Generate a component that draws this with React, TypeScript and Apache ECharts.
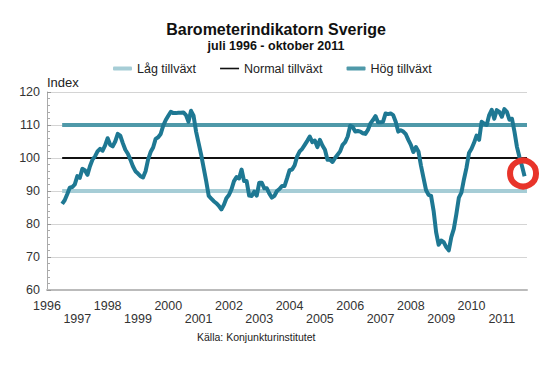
import React, { useEffect, useRef } from "react";
import * as echarts from "echarts";

// Monthly values, July 1996 – October 2011
const startYear = 1996;
const startMonth = 7;
const indexValues: number[] = [
  86.1, 87.2, 89, 91, 91.2, 92, 94.5, 94, 96.7, 96.3, 94.9, 97.5,
  99.5, 100.5, 102, 102.8, 102.2, 103.8, 106, 104, 103.5, 105, 107.3, 106.8,
  104.5, 102.5, 101.3, 99.5, 97.5, 96, 95.3, 94.5, 94.1, 96, 99.5, 101.8,
  103.2, 105.8, 106.3, 107.3, 109.8, 111.5, 112.8, 114, 113.6, 113.6, 113.7, 113.7,
  113.8, 113, 111, 114.3, 112.8, 108, 104.5, 101, 97, 93, 88.5, 87.7,
  86.9, 86.3, 85.5, 84.4, 85.8, 87.8, 88.8, 90.5, 93, 94.2, 93.8, 96.5,
  93, 93, 88.6, 88.5, 89.8, 88.6, 92.5, 92.5, 90.8, 90.8, 89.2, 88,
  88.5, 90, 90.6, 91.5, 91.5, 93.8, 96.3, 96.5, 97.8, 100.5, 102, 102.8,
  104, 105.2, 106.5, 104.8, 105.3, 103.3, 105.5, 103.8, 102.5, 99.5, 99.5, 98.8,
  100, 101, 102, 104, 104.8, 106.5, 109.8, 109.4, 108, 108.2, 108, 107.5,
  107.3, 108.5, 110.5, 111.5, 112.7, 110.8, 110.8, 111, 113.5, 113.3, 113.5, 113,
  111, 108, 108.4, 108, 107.2, 105.5, 104, 101.8, 103.3, 102, 97.7, 94,
  90.3, 88.8, 88.5, 84, 77.5, 73.7, 75, 74.5, 73, 72, 76, 78.5,
  83, 88, 89.5, 93.5, 97, 101.5, 102.8, 104.6, 106.8, 105.5, 111, 110.4,
  110, 113, 114.6, 111.9, 114.5, 114, 112.5, 114.8, 114, 111.6, 111.9, 108,
  103.3, 100.2, 97.5, 94.5,
];

const refNames = ["Låg tillväxt", "Normal tillväxt", "Hög tillväxt"];
const refLevels = [90, 100, 110];
const refColors = ["#a6cdd6", "#111111", "#4f99a9"];
const refWidths = [4, 2, 4];

const xMin = 1996;
const xMax = 2011.83;
const yTicks = [60, 70, 80, 90, 100, 110, 120];
const highlightPoint = [2011.7, 95.3];

const FONT = "Liberation Sans, Arial, Helvetica, sans-serif";

export default function App() {
  const ref = useRef<HTMLDivElement>(null);

  useEffect(() => {
    if (!ref.current) return;
    const chart = echarts.init(ref.current, undefined, { renderer: "svg" });

    const lineData = indexValues.map((v, i) => [
      startYear + (startMonth - 1 + i) / 12,
      v,
    ]);
    const dataStart = lineData[0][0];

    const refSeries = refNames.map((name, k) => ({
      name,
      type: "line",
      data: [
        [dataStart, refLevels[k]],
        [xMax, refLevels[k]],
      ],
      symbol: "none",
      color: refColors[k],
      lineStyle: { color: refColors[k], width: refWidths[k] },
      z: 2,
      silent: true,
    }));

    chart.setOption({
      animation: false,
      backgroundColor: "#ffffff",
      textStyle: { fontFamily: FONT },
      title: {
        text: "Barometerindikatorn Sverige",
        subtext: "juli 1996 - oktober 2011",
        left: 271,
        textAlign: "center",
        top: 16,
        itemGap: 2,
        textStyle: { fontFamily: FONT, fontSize: 16, fontWeight: "bold", color: "#111" },
        subtextStyle: { fontFamily: FONT, fontSize: 12.5, fontWeight: "bold", color: "#111" },
      },
      legend: {
        top: 57,
        left: 108,
        itemWidth: 19,
        itemHeight: 4,
        itemGap: 24,
        textStyle: { fontFamily: FONT, fontSize: 12.5, color: "#222" },
        data: [
          { name: refNames[0], icon: "roundRect" },
          { name: refNames[1], icon: "path://M0,0M0,4M0,1.2h19v1.6h-19z" },
          { name: refNames[2], icon: "roundRect" },
        ],
      },
      grid: { left: 47, right: 23, top: 92, bottom: 75 },
      xAxis: {
        type: "value",
        min: xMin,
        max: xMax,
        interval: 1,
        axisLine: { show: true, lineStyle: { color: "#bbbbbb", width: 2 } },
        axisTick: { show: false },
        splitLine: { show: false },
        axisLabel: {
          color: "#333",
          fontSize: 12.5,
          fontFamily: FONT,
          margin: 9,
          lineHeight: 13,
          verticalAlign: "top",
          showMinLabel: true,
          showMaxLabel: false,
          formatter: (v: number) => {
            if (Math.abs(v - Math.round(v)) > 1e-6) return "";
            const y = Math.round(v);
            return y % 2 === 1 ? "\n" + y : String(y);
          },
        },
      },
      yAxis: {
        type: "value",
        min: yTicks[0],
        max: yTicks[yTicks.length - 1],
        interval: 10,
        name: "Index",
        nameLocation: "end",
        nameGap: 10,
        nameTextStyle: {
          fontFamily: FONT,
          fontSize: 13,
          color: "#222",
          align: "left",
          verticalAlign: "middle",
        },
        axisLine: { show: true, lineStyle: { color: "#aaaaaa", width: 1 } },
        axisTick: { show: true, inside: true, length: 4, lineStyle: { color: "#999" } },
        minorTick: { show: true, splitNumber: 5, length: 3, lineStyle: { color: "#aaa" } },
        splitLine: { show: true, lineStyle: { color: "#d4d4d4", width: 1 } },
        axisLabel: { color: "#333", fontSize: 12.5, fontFamily: FONT, margin: 7 },
      },
      series: [
        ...refSeries,
        {
          name: "Barometerindikatorn",
          type: "line",
          data: lineData,
          symbol: "none",
          color: "#1e7893",
          lineStyle: { color: "#1e7893", width: 4, join: "round" },
          z: 5,
          silent: true,
        },
        {
          name: "Markering",
          type: "scatter",
          data: [highlightPoint],
          symbol: "circle",
          symbolSize: 26,
          itemStyle: {
            color: "rgba(255,255,255,0)",
            borderColor: "#e8342a",
            borderWidth: 6,
            opacity: 1,
          },
          z: 10,
          silent: true,
        },
      ],
      graphic: [
        {
          type: "text",
          left: 197,
          top: 331,
          style: {
            text: "Källa: Konjunkturinstitutet",
            fontFamily: FONT,
            fontSize: 10.5,
            fill: "#222",
          },
        },
      ],
    });

    return () => chart.dispose();
  }, []);

  return (
    <div
      ref={ref}
      style={{ position: "absolute", left: 0, top: 0, width: 550, height: 365 }}
    />
  );
}
